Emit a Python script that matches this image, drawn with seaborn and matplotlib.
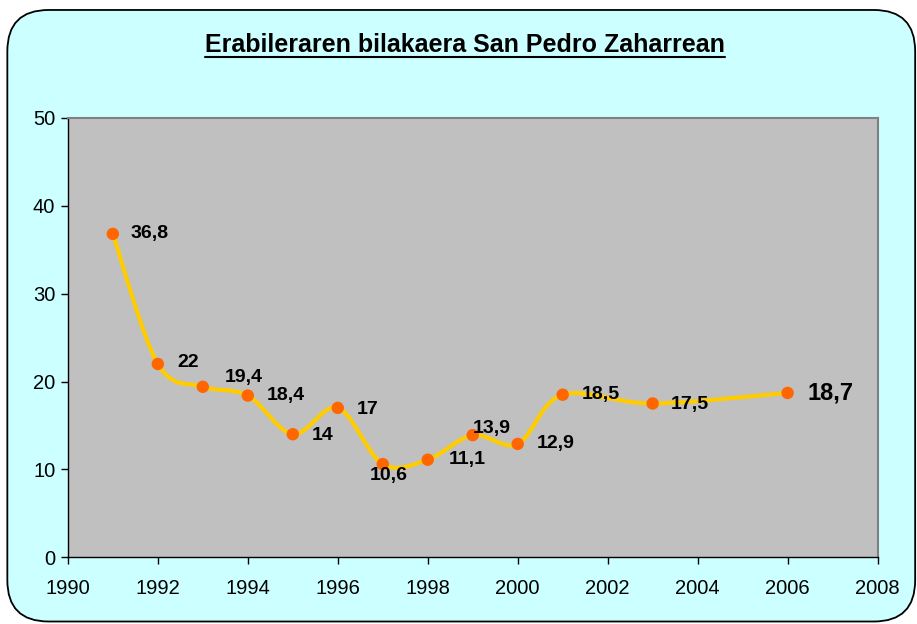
import numpy as np
import pandas as pd
import matplotlib
matplotlib.use("Agg")
import matplotlib.pyplot as plt
import seaborn as sns
from matplotlib.path import Path
from matplotlib.patches import PathPatch, FancyBboxPatch
from matplotlib.lines import Line2D

# datuak
years = [1991, 1992, 1993, 1994, 1995, 1996, 1997, 1998, 1999, 2000, 2001, 2003, 2006]
values = [36.8, 22, 19.4, 18.4, 14, 17, 10.6, 11.1, 13.9, 12.9, 18.5, 17.5, 18.7]
labels = ["36,8", "22", "19,4", "18,4", "14", "17", "10,6", "11,1", "13,9", "12,9", "18,5", "17,5", "18,7"]
title = "Erabileraren bilakaera San Pedro Zaharrean"

df = pd.DataFrame({"year": years, "value": values, "label": labels})

sns.set_style("white")
plt.rcParams["font.family"] = ["Liberation Sans", "DejaVu Sans"]

fig = plt.figure(figsize=(9.17, 6.24), dpi=100)
fig.patch.set_facecolor("white")

# kanpoko markoa (ertz biribilduak)
frame = FancyBboxPatch((0.008, 0.004), 0.99, 0.98, transform=fig.transFigure,
                       boxstyle="round,pad=0,rounding_size=0.045",
                       facecolor="#CCFFFF", edgecolor="black", linewidth=1.3,
                       mutation_aspect=917 / 624, zorder=-10)
fig.patches.append(frame)

ax = fig.add_axes([0.074, 0.107, 0.883, 0.704])
ax.set_facecolor("#C0C0C0")

# Excel moduko kurba leuna (Bezier)
x = df["year"].to_numpy(float)
y = df["value"].to_numpy(float)
px = np.concatenate([[x[0]], x, [x[-1]]])
py = np.concatenate([[y[0]], y, [y[-1]]])
verts = [(x[0], y[0])]
codes = [Path.MOVETO]
for i in range(1, len(px) - 2):
    c1 = (px[i] + (px[i + 1] - px[i - 1]) / 6, py[i] + (py[i + 1] - py[i - 1]) / 6)
    c2 = (px[i + 1] - (px[i + 2] - px[i]) / 6, py[i + 1] - (py[i + 2] - py[i]) / 6)
    verts += [c1, c2, (px[i + 1], py[i + 1])]
    codes += [Path.CURVE4] * 3
ax.add_patch(PathPatch(Path(verts, codes), facecolor="none", edgecolor="#FFCC00",
                       linewidth=3, zorder=2))

sns.scatterplot(data=df, x="year", y="value", ax=ax, color="#FF6600", s=80,
                edgecolor="none", zorder=3, legend=False)

# etiketen desplazamendua (puntuetan)
offsets = [(13, 0), (14, 1), (16, 7), (14, 0), (14, -1), (14, -1), (-9, -8),
           (15, 0), (0, 5), (14, 0), (14, 0), (13, -1), (14, 0)]
for (xx, yy, lab), off in zip(zip(years, values, labels), offsets):
    big = lab == "18,7"
    ax.annotate(lab, (xx, yy), xytext=off, textcoords="offset points",
                ha="left", va="center", fontsize=17 if big else 14,
                fontweight="bold", color="black", zorder=4)

ax.set_xlim(1990, 2008)
ax.set_ylim(0, 50)
ax.set_xticks(range(1990, 2009, 2))
ax.set_yticks(range(0, 51, 10))
ax.set_xlabel("")
ax.set_ylabel("")
ax.tick_params(axis="both", which="major", direction="out", length=5, width=1,
               color="black", labelcolor="black", labelsize=14.5, bottom=True, left=True)
ax.tick_params(axis="x", pad=11)
ax.tick_params(axis="y", pad=4)
for side in ["left", "bottom"]:
    ax.spines[side].set_color("black")
    ax.spines[side].set_linewidth(1)
for side in ["top", "right"]:
    ax.spines[side].set_visible(True)
    ax.spines[side].set_color("#808080")
    ax.spines[side].set_linewidth(1.5)

# izenburua azpimarratuta
t = fig.text(0.507, 0.916, title, ha="center", va="baseline", fontsize=18,
             fontweight="bold", color="black")
fig.canvas.draw()
bb = t.get_window_extent(fig.canvas.get_renderer()).transformed(fig.transFigure.inverted())
fig.add_artist(Line2D([bb.x0, bb.x1], [0.909, 0.909], transform=fig.transFigure,
                      color="black", linewidth=1.5))

fig.savefig("out.png", dpi=100, facecolor=fig.get_facecolor())
